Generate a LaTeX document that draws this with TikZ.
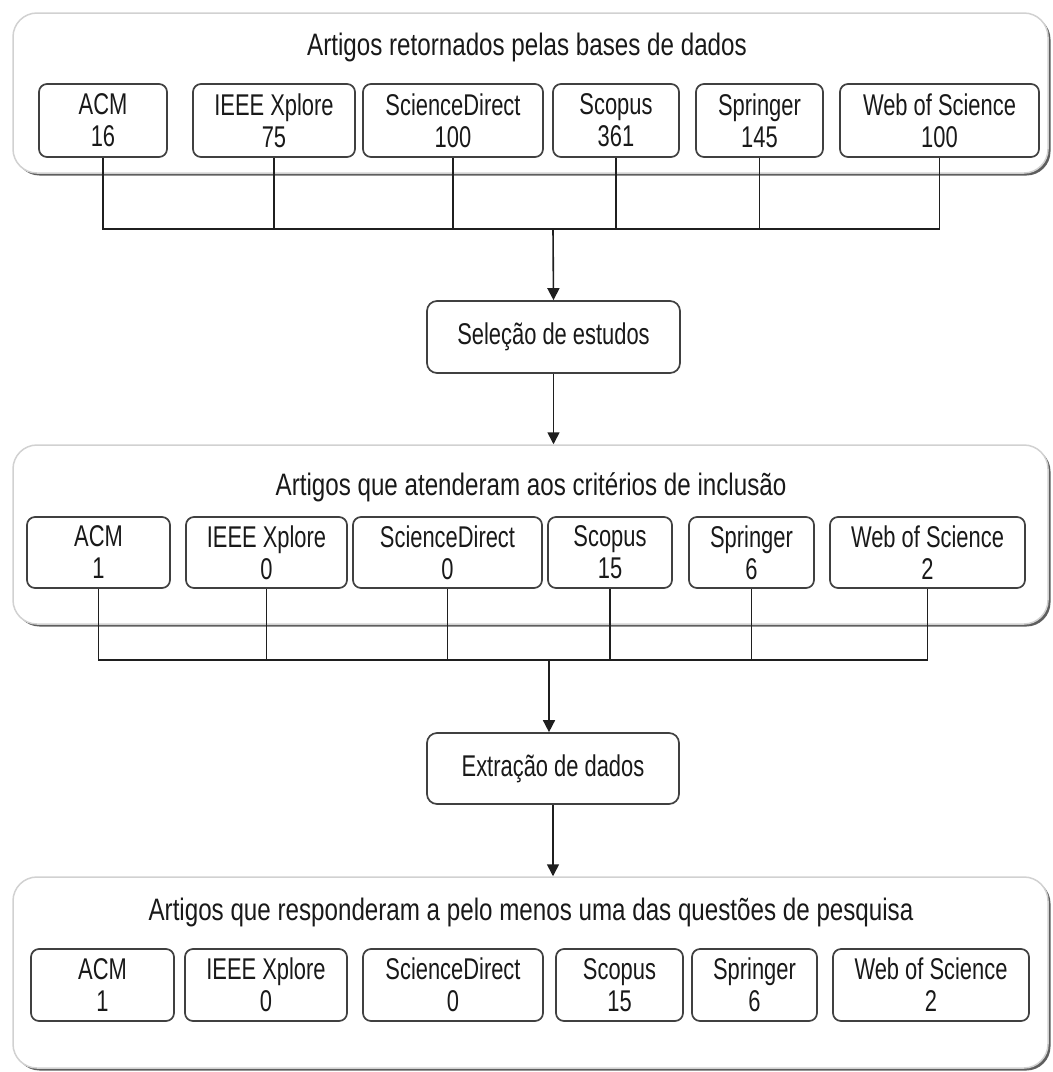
\documentclass[tikz,border=0pt]{standalone}
\usepackage{fontspec}
\setmainfont{Liberation Sans}[FakeStretch=0.78]
\newfontfamily\narrowfont{Liberation Sans}[FakeStretch=0.73]
\usetikzlibrary{shadows,arrows.meta}
\tikzset{
  container/.style={draw=black!18, line width=1.5pt, fill=white, rounded corners=24pt,
    drop shadow={shadow xshift=2.5pt, shadow yshift=-2.5pt, fill=black!70, opacity=0.9}},
  dbbox/.style={draw=black!75, line width=1.7pt, fill=white, rounded corners=8pt,
    align=center, inner sep=0pt, text=black!90,
    font=\narrowfont\fontsize{30}{32}\selectfont},
  titletext/.style={text=black!90, font=\fontsize{31}{34}\selectfont, inner sep=0pt},
  stepbox/.style={draw=black!75, line width=1.7pt, fill=white, rounded corners=10pt,
    inner sep=0pt, text=black!90, font=\narrowfont\fontsize{30}{32}\selectfont},
  conn/.style={draw=black!88, line width=1.6pt},
  arr/.style={conn, -{Triangle[width=12pt,length=12pt]}},
}
\begin{document}
\begin{tikzpicture}[x=1pt,y=-1pt]
\useasboundingbox (0,0) rectangle (1053,1072);

% ---------- container 1 ----------
\node[container, minimum width=1035pt, minimum height=160pt] (c1) at (530.5,93) {};
\node[titletext] (t1) at (527,47) {Artigos retornados pelas bases de dados};
\node[dbbox, minimum width=128pt, minimum height=73pt] (a1) at (103,120.5) {ACM\\16};
\node[dbbox, minimum width=162pt, minimum height=73pt] (b1) at (274,120.5) {IEEE Xplore\\75};
\node[dbbox, minimum width=180pt, minimum height=73pt] (s1) at (453,120.5) {ScienceDirect\\100};
\node[dbbox, minimum width=126pt, minimum height=73pt] (p1) at (616,120.5) {Scopus\\361};
\node[dbbox, minimum width=127pt, minimum height=73pt] (r1) at (759.5,120.5) {Springer\\145};
\node[dbbox, minimum width=199pt, minimum height=73pt] (w1) at (939.5,120.5) {Web of Science\\100};
\coordinate (h1) at (553,229);
\draw[conn] (a1.south) |- (h1);
\draw[conn] (w1.south) |- (h1);
\draw[conn] (b1.south) -- (b1.south |- h1);
\draw[conn] (s1.south) -- (s1.south |- h1);
\draw[conn] (p1.south) -- (p1.south |- h1);
\draw[conn] (r1.south) -- (r1.south |- h1);

\node[stepbox, minimum width=253pt, minimum height=72pt] (sel) at (553.5,337) {Sele\c{c}\~ao de estudos};
\draw[arr] (h1) -- (sel.north);

% ---------- container 2 ----------
\node[container, minimum width=1035pt, minimum height=179pt] (c2) at (530.5,534.5) {};
\draw[arr] (sel.south) -- (sel.south |- c2.north);
\node[titletext] (t2) at (531,487) {Artigos que atenderam aos crit\'erios de inclus\~ao};
\node[dbbox, minimum width=143pt, minimum height=71pt] (a2) at (98.5,552.5) {ACM\\1};
\node[dbbox, minimum width=161pt, minimum height=71pt] (b2) at (266.5,552.5) {IEEE Xplore\\0};
\node[dbbox, minimum width=189pt, minimum height=71pt] (s2) at (447.5,552.5) {ScienceDirect\\0};
\node[dbbox, minimum width=124pt, minimum height=71pt] (p2) at (610,552.5) {Scopus\\15};
\node[dbbox, minimum width=125pt, minimum height=71pt] (r2) at (751.5,552.5) {Springer\\6};
\node[dbbox, minimum width=195pt, minimum height=71pt] (w2) at (927.5,552.5) {Web of Science\\2};
\coordinate (h2) at (549,660);
\draw[conn] (a2.south) |- (h2);
\draw[conn] (w2.south) |- (h2);
\draw[conn] (b2.south) -- (b2.south |- h2);
\draw[conn] (s2.south) -- (s2.south |- h2);
\draw[conn] (p2.south) -- (p2.south |- h2);
\draw[conn] (r2.south) -- (r2.south |- h2);

\node[stepbox, minimum width=252pt, minimum height=71pt] (ext) at (553,768.5) {Extra\c{c}\~ao de dados};
\draw[arr] (h2) -- (h2 |- ext.north);

% ---------- container 3 ----------
\node[container, minimum width=1035pt, minimum height=191pt] (c3) at (530.5,972.5) {};
\draw[arr] (ext.south) -- (ext.south |- c3.north);
\node[titletext] (t3) at (531,912) {Artigos que responderam a pelo menos uma das quest\~oes de pesquisa};
\node[dbbox, minimum width=143pt, minimum height=72pt] (a3) at (102.5,985) {ACM\\1};
\node[dbbox, minimum width=162pt, minimum height=72pt] (b3) at (266,985) {IEEE Xplore\\0};
\node[dbbox, minimum width=180pt, minimum height=72pt] (s3) at (453,985) {ScienceDirect\\0};
\node[dbbox, minimum width=127pt, minimum height=72pt] (p3) at (619.5,985) {Scopus\\15};
\node[dbbox, minimum width=125pt, minimum height=72pt] (r3) at (754.5,985) {Springer\\6};
\node[dbbox, minimum width=196pt, minimum height=72pt] (w3) at (931,985) {Web of Science\\2};
\end{tikzpicture}
\end{document}
